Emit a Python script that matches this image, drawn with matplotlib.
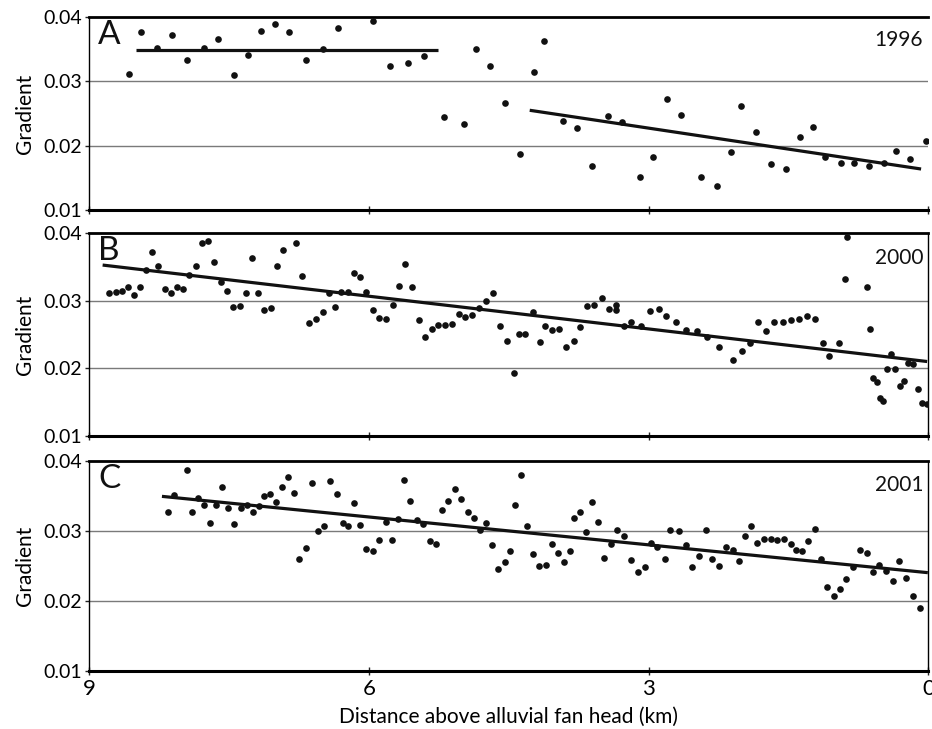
import matplotlib
matplotlib.use("Agg")
import matplotlib.pyplot as plt

plt.rcParams['font.family'] = ['Lato', 'DejaVu Sans']

# ---- 1996 survey ----
dist_1996 = [8.575, 8.44, 8.268, 8.107, 7.951, 7.768, 7.621, 7.45, 7.30, 7.16,
             7.01, 6.854, 6.67, 6.49, 6.33, 5.96, 5.768, 5.575, 5.407, 5.19,
             4.979, 4.854, 4.70, 4.543, 4.382, 4.225, 4.118, 3.914, 3.764, 3.604,
             3.436, 3.286, 3.093, 2.957, 2.807, 2.657, 2.443, 2.265, 2.115, 2.011,
             1.85, 1.686, 1.532, 1.379, 1.24, 1.107, 0.943, 0.793, 0.636, 0.482,
             0.343, 0.20, 0.029]
grad_1996 = [0.0311, 0.0376, 0.0352, 0.0371, 0.0333, 0.0352, 0.0366, 0.0309, 0.0341, 0.0378,
             0.0389, 0.0376, 0.0333, 0.0350, 0.0382, 0.0394, 0.0323, 0.0328, 0.0339, 0.0245,
             0.0234, 0.0350, 0.0323, 0.0267, 0.0188, 0.0315, 0.0363, 0.0238, 0.0227, 0.0169,
             0.0246, 0.0237, 0.0152, 0.0183, 0.0273, 0.0248, 0.0152, 0.0138, 0.0191, 0.0262,
             0.0221, 0.0171, 0.0164, 0.0213, 0.0229, 0.0183, 0.0174, 0.0174, 0.0169, 0.0174,
             0.0192, 0.0180, 0.0207]
fit_1996_upper_x = [8.50, 5.26]
fit_1996_upper_y = [0.0348, 0.0348]
fit_1996_lower_x = [4.275, 0.079]
fit_1996_lower_y = [0.0255, 0.0164]

# ---- 2000 survey ----
dist_2000 = [8.782, 8.714, 8.643, 8.579, 8.514, 8.45, 8.386, 8.32, 8.257, 8.182,
             8.118, 8.054, 7.99, 7.925, 7.854, 7.79, 7.725, 7.661, 7.586, 7.521,
             7.457, 7.382, 7.318, 7.257, 7.193, 7.121, 7.054, 6.989, 6.918, 6.779,
             6.714, 6.643, 6.564, 6.489, 6.425, 6.361, 6.296, 6.225, 6.161, 6.096,
             6.025, 5.957, 5.89, 5.818, 5.746, 5.679, 5.607, 5.532, 5.457, 5.393,
             5.321, 5.254, 5.182, 5.107, 5.032, 4.968, 4.893, 4.818, 4.743, 4.668,
             4.593, 4.521, 4.446, 4.393, 4.321, 4.243, 4.168, 4.107, 4.032, 3.957,
             3.882, 3.796, 3.732, 3.657, 3.582, 3.496, 3.425, 3.35, 3.35, 3.264,
             3.189, 3.086, 2.989, 2.893, 2.818, 2.711, 2.604, 2.486, 2.379, 2.243,
             2.093, 1.996, 1.914, 1.829, 1.743, 1.657, 1.561, 1.475, 1.389, 1.304,
             1.218, 1.132, 1.061, 0.964, 0.90, 0.868, 0.657, 0.625, 0.593, 0.55,
             0.518, 0.489, 0.443, 0.40, 0.357, 0.304, 0.261, 0.218, 0.164, 0.111,
             0.068, 0.014]
grad_2000 = [0.0312, 0.0313, 0.0315, 0.0321, 0.0309, 0.0321, 0.0345, 0.0372, 0.0351, 0.0318,
             0.0312, 0.0320, 0.0318, 0.0338, 0.0351, 0.0386, 0.0389, 0.0357, 0.0328, 0.0315,
             0.0291, 0.0292, 0.0311, 0.0363, 0.0311, 0.0286, 0.0289, 0.0351, 0.0375, 0.0386,
             0.0337, 0.0267, 0.0273, 0.0283, 0.0311, 0.0291, 0.0313, 0.0313, 0.0341, 0.0336,
             0.0313, 0.0286, 0.0274, 0.0273, 0.0294, 0.0322, 0.0354, 0.0321, 0.0271, 0.0247,
             0.0258, 0.0264, 0.0264, 0.0265, 0.0280, 0.0276, 0.0279, 0.0289, 0.0300, 0.0311,
             0.0262, 0.0241, 0.0193, 0.0251, 0.0251, 0.0283, 0.0239, 0.0262, 0.0256, 0.0258,
             0.0232, 0.0241, 0.0261, 0.0292, 0.0294, 0.0304, 0.0288, 0.0294, 0.0287, 0.0262,
             0.0269, 0.0262, 0.0285, 0.0288, 0.0277, 0.0269, 0.0256, 0.0255, 0.0247, 0.0232,
             0.0212, 0.0226, 0.0237, 0.0269, 0.0255, 0.0269, 0.0269, 0.0272, 0.0273, 0.0277,
             0.0273, 0.0238, 0.0218, 0.0238, 0.0333, 0.0394, 0.0321, 0.0258, 0.0186, 0.0179,
             0.0156, 0.0152, 0.0199, 0.0221, 0.0199, 0.0173, 0.0181, 0.0208, 0.0207, 0.0169,
             0.0149, 0.0147]
fit_2000_x = [8.854, 0.014]
fit_2000_y = [0.0353, 0.0210]

# ---- 2001 survey ----
dist_2001 = [8.15, 8.086, 7.95, 7.896, 7.832, 7.768, 7.70, 7.636, 7.571, 7.507,
             7.446, 7.375, 7.31, 7.246, 7.182, 7.121, 7.057, 6.996, 6.932, 6.868,
             6.807, 6.746, 6.671, 6.607, 6.546, 6.482, 6.421, 6.346, 6.282, 6.218,
             6.157, 6.093, 6.025, 5.957, 5.893, 5.818, 5.75, 5.686, 5.621, 5.557,
             5.486, 5.414, 5.346, 5.275, 5.214, 5.15, 5.075, 5.014, 4.939, 4.875,
             4.804, 4.743, 4.679, 4.618, 4.543, 4.489, 4.429, 4.364, 4.30, 4.239,
             4.175, 4.10, 4.039, 3.975, 3.911, 3.846, 3.796, 3.736, 3.671, 3.607,
             3.543, 3.479, 3.40, 3.336, 3.261, 3.186, 3.114, 3.043, 2.979, 2.907,
             2.825, 2.775, 2.675, 2.604, 2.539, 2.457, 2.39, 2.322, 2.246, 2.171,
             2.10, 2.035, 1.964, 1.90, 1.836, 1.764, 1.693, 1.625, 1.554, 1.479,
             1.418, 1.354, 1.289, 1.218, 1.154, 1.09, 1.018, 0.946, 0.882, 0.811,
             0.736, 0.664, 0.596, 0.528, 0.454, 0.379, 0.314, 0.243, 0.168, 0.096]
grad_2001 = [0.0327, 0.0351, 0.0386, 0.0327, 0.0346, 0.0337, 0.0311, 0.0337, 0.0362, 0.0332,
             0.0309, 0.0332, 0.0336, 0.0327, 0.0335, 0.0349, 0.0352, 0.0341, 0.0362, 0.0377,
             0.0354, 0.0260, 0.0275, 0.0368, 0.0300, 0.0307, 0.0371, 0.0352, 0.0311, 0.0306,
             0.0340, 0.0308, 0.0274, 0.0271, 0.0286, 0.0313, 0.0286, 0.0317, 0.0373, 0.0343,
             0.0315, 0.0309, 0.0285, 0.0281, 0.0329, 0.0343, 0.0359, 0.0345, 0.0326, 0.0318,
             0.0301, 0.0311, 0.0280, 0.0245, 0.0255, 0.0271, 0.0336, 0.0379, 0.0306, 0.0267,
             0.0250, 0.0251, 0.0281, 0.0268, 0.0255, 0.0271, 0.0318, 0.0327, 0.0298, 0.0341,
             0.0313, 0.0261, 0.0281, 0.0301, 0.0293, 0.0258, 0.0241, 0.0248, 0.0283, 0.0277,
             0.0260, 0.0301, 0.0299, 0.0279, 0.0248, 0.0264, 0.0301, 0.0260, 0.0250, 0.0277,
             0.0272, 0.0257, 0.0292, 0.0306, 0.0283, 0.0288, 0.0288, 0.0286, 0.0288, 0.0281,
             0.0272, 0.0271, 0.0285, 0.0302, 0.0260, 0.0220, 0.0207, 0.0217, 0.0231, 0.0248,
             0.0272, 0.0268, 0.0241, 0.0251, 0.0242, 0.0228, 0.0257, 0.0232, 0.0207, 0.0190]
fit_2001_x = [8.218, 0.007]
fit_2001_y = [0.0349, 0.0240]

panel_letters = ['A', 'B', 'C']
panel_years = ['1996', '2000', '2001']
y_ticks = [0.01, 0.02, 0.03, 0.04]
y_ticklabels = ['0.01', '0.02', '0.03', '0.04']
x_ticks = [9, 6, 3, 0]
x_ticklabels = ['9', '6', '3', '0']

fig = plt.figure(figsize=(9.32, 7.29), dpi=100)
left, width = 0.0955, 0.9007
boxes = [(left, 0.7115, width, 0.2656),
         (left, 0.4023, width, 0.2776),
         (left, 0.0800, width, 0.2881)]
axes = [fig.add_axes(b) for b in boxes]

series = [(dist_1996, grad_1996), (dist_2000, grad_2000), (dist_2001, grad_2001)]
fits = [[(fit_1996_upper_x, fit_1996_upper_y), (fit_1996_lower_x, fit_1996_lower_y)],
        [(fit_2000_x, fit_2000_y)],
        [(fit_2001_x, fit_2001_y)]]

for i, ax in enumerate(axes):
    ax.set_xlim(9, 0)
    ax.set_ylim(0.01, 0.04)
    for g in (0.02, 0.03):
        ax.axhline(g, color='#7a7a7a', lw=1.0, zorder=1)
    xs, ys = series[i]
    ax.plot(xs, ys, 'o', ms=4.8, color='#111111', mec='none', zorder=3)
    for fx, fy in fits[i]:
        ax.plot(fx, fy, '-', color='#111111', lw=2.3, zorder=4, solid_capstyle='butt')

    ax.spines['top'].set_linewidth(2.0)
    ax.spines['bottom'].set_linewidth(2.2)
    ax.spines['left'].set_linewidth(1.0)
    ax.spines['right'].set_linewidth(1.0)
    if i == 0:
        ax.spines['right'].set_visible(False)

    ax.set_yticks(y_ticks)
    ax.set_yticklabels(y_ticklabels)
    ax.set_xticks(x_ticks)
    ax.tick_params(axis='x', direction='inout', length=6, width=1.0, color='#222222')
    ax.tick_params(axis='y', direction='out', length=3, width=1.0, pad=2,
                   labelsize=14, color='#222222')
    if i < 2:
        ax.set_xticklabels([])
    else:
        ax.set_xticklabels(x_ticklabels)
        ax.tick_params(axis='x', labelsize=16, pad=3)
        ax.set_xlabel('Distance above alluvial fan head (km)', fontsize=15, labelpad=6)
    ax.set_ylabel('Gradient', fontsize=15, labelpad=6)

    ax.text(0.011, 0.985, panel_letters[i], transform=ax.transAxes,
            ha='left', va='top', fontsize=24, color='#111111')
    ax.text(0.9935, 0.93, panel_years[i], transform=ax.transAxes,
            ha='right', va='top', fontsize=15, color='#111111')

fig.savefig('out.png', dpi=100)
